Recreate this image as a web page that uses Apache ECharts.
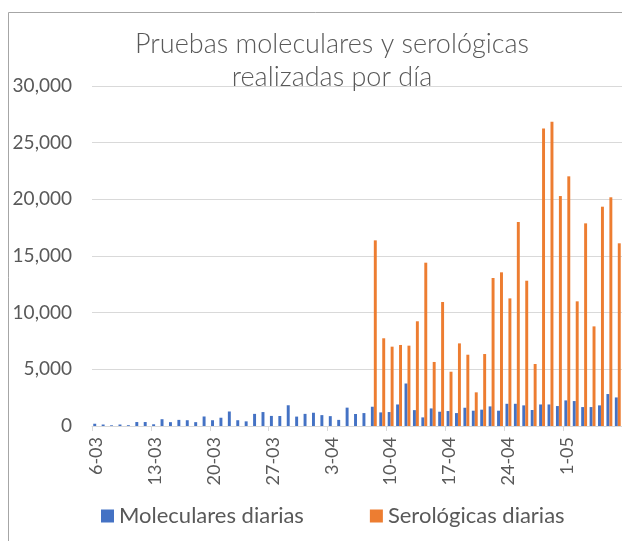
<!DOCTYPE html>
<html>
<head>
<meta charset="utf-8">
<script src="https://cdn.jsdelivr.net/npm/echarts@6/dist/echarts.min.js"></script>
<style>
html,body{margin:0;padding:0;background:#fff;}
#c{width:622px;height:541px;}
</style>
</head>
<body>
<div id="c"></div>
<script>
const categories = [
  "6-03","7-03","8-03","9-03","10-03","11-03","12-03","13-03","14-03","15-03",
  "16-03","17-03","18-03","19-03","20-03","21-03","22-03","23-03","24-03","25-03",
  "26-03","27-03","28-03","29-03","30-03","31-03","1-04","2-04","3-04","4-04",
  "5-04","6-04","7-04","8-04","9-04","10-04","11-04","12-04","13-04","14-04",
  "15-04","16-04","17-04","18-04","19-04","20-04","21-04","22-04","23-04","24-04",
  "25-04","26-04","27-04","28-04","29-04","30-04","1-05","2-05","3-05","4-05",
  "5-05","6-05","7-05"
];
const molecularesDiarias = [
  200,130,60,130,70,350,350,150,600,340,
  540,510,340,840,510,730,1280,510,410,1070,
  1230,890,880,1830,830,1070,1170,960,870,540,
  1620,1060,1140,1700,1200,1230,1900,3750,1400,760,
  1550,1260,1320,1140,1610,1350,1440,1730,1350,1960,
  1960,1820,1410,1900,1900,1760,2260,2200,1670,1670,
  1820,2820,2520
];
const serologicasDiarias = [
  null,null,null,null,null,null,null,null,null,null,
  null,null,null,null,null,null,null,null,null,null,
  null,null,null,null,null,null,null,null,null,null,
  null,null,null,16380,7740,7000,7150,7090,9240,14410,
  5650,10940,4790,7290,6290,2970,6350,13060,13560,11260,
  18000,12820,5470,26240,26850,20290,22030,11000,17880,8790,
  19350,20180,16120
];
const yTicks = [0, 5000, 10000, 15000, 20000, 25000, 30000];
const seriesNames = ["Moleculares diarias", "Serológicas diarias"];
const titleText = "Pruebas moleculares y serológicas\nrealizadas por día";

const FONT = "Lato";
const TXT = "#595959";
const chart = echarts.init(document.getElementById('c'), null, {renderer: 'canvas'});
chart.setOption({
  animation: false,
  backgroundColor: '#ffffff',
  textStyle: {fontFamily: FONT},
  title: {
    text: titleText,
    left: 332, top: 28, textAlign: 'center', padding: 0,
    textStyle: {fontFamily: FONT, fontSize: 27, fontWeight: 300, color: TXT, lineHeight: 33}
  },
  graphic: [{
    type: 'rect', silent: true, z: -1,
    shape: {x: 8.5, y: 12.5, width: 1000, height: 1000},
    style: {fill: 'none', stroke: '#a6a6a6', lineWidth: 1}
  }],
  legend: {
    data: seriesNames,
    left: 101, top: 505, padding: 0,
    icon: 'rect', itemWidth: 13, itemHeight: 13, itemGap: 66,
    textStyle: {fontFamily: FONT, fontSize: 22, color: TXT}
  },
  grid: {left: 92, top: 86, width: 530.5, height: 340},
  xAxis: {
    type: 'category',
    data: categories,
    boundaryGap: true,
    axisLine: {lineStyle: {color: '#d9d9d9', width: 1}},
    axisTick: {show: true, interval: 6, length: 5, lineStyle: {color: '#d9d9d9'}},
    axisLabel: {interval: 6, rotate: 90, margin: 11, fontFamily: FONT, fontSize: 18, color: TXT}
  },
  yAxis: {
    type: 'value',
    min: yTicks[0], max: yTicks[yTicks.length - 1], interval: yTicks[1] - yTicks[0],
    axisLine: {show: false}, axisTick: {show: false},
    splitLine: {lineStyle: {color: '#d9d9d9', width: 1}},
    axisLabel: {
      margin: 20, fontFamily: FONT, fontSize: 19, color: TXT,
      formatter: v => v.toLocaleString('en-US')
    }
  },
  series: [
    {name: seriesNames[0], type: 'bar', data: molecularesDiarias,
     itemStyle: {color: '#4472C4'}, barGap: '0%', barCategoryGap: '30%'},
    {name: seriesNames[1], type: 'bar', data: serologicasDiarias,
     itemStyle: {color: '#ED7D31'}, barGap: '0%', barCategoryGap: '30%'}
  ]
});
</script>
</body>
</html>
